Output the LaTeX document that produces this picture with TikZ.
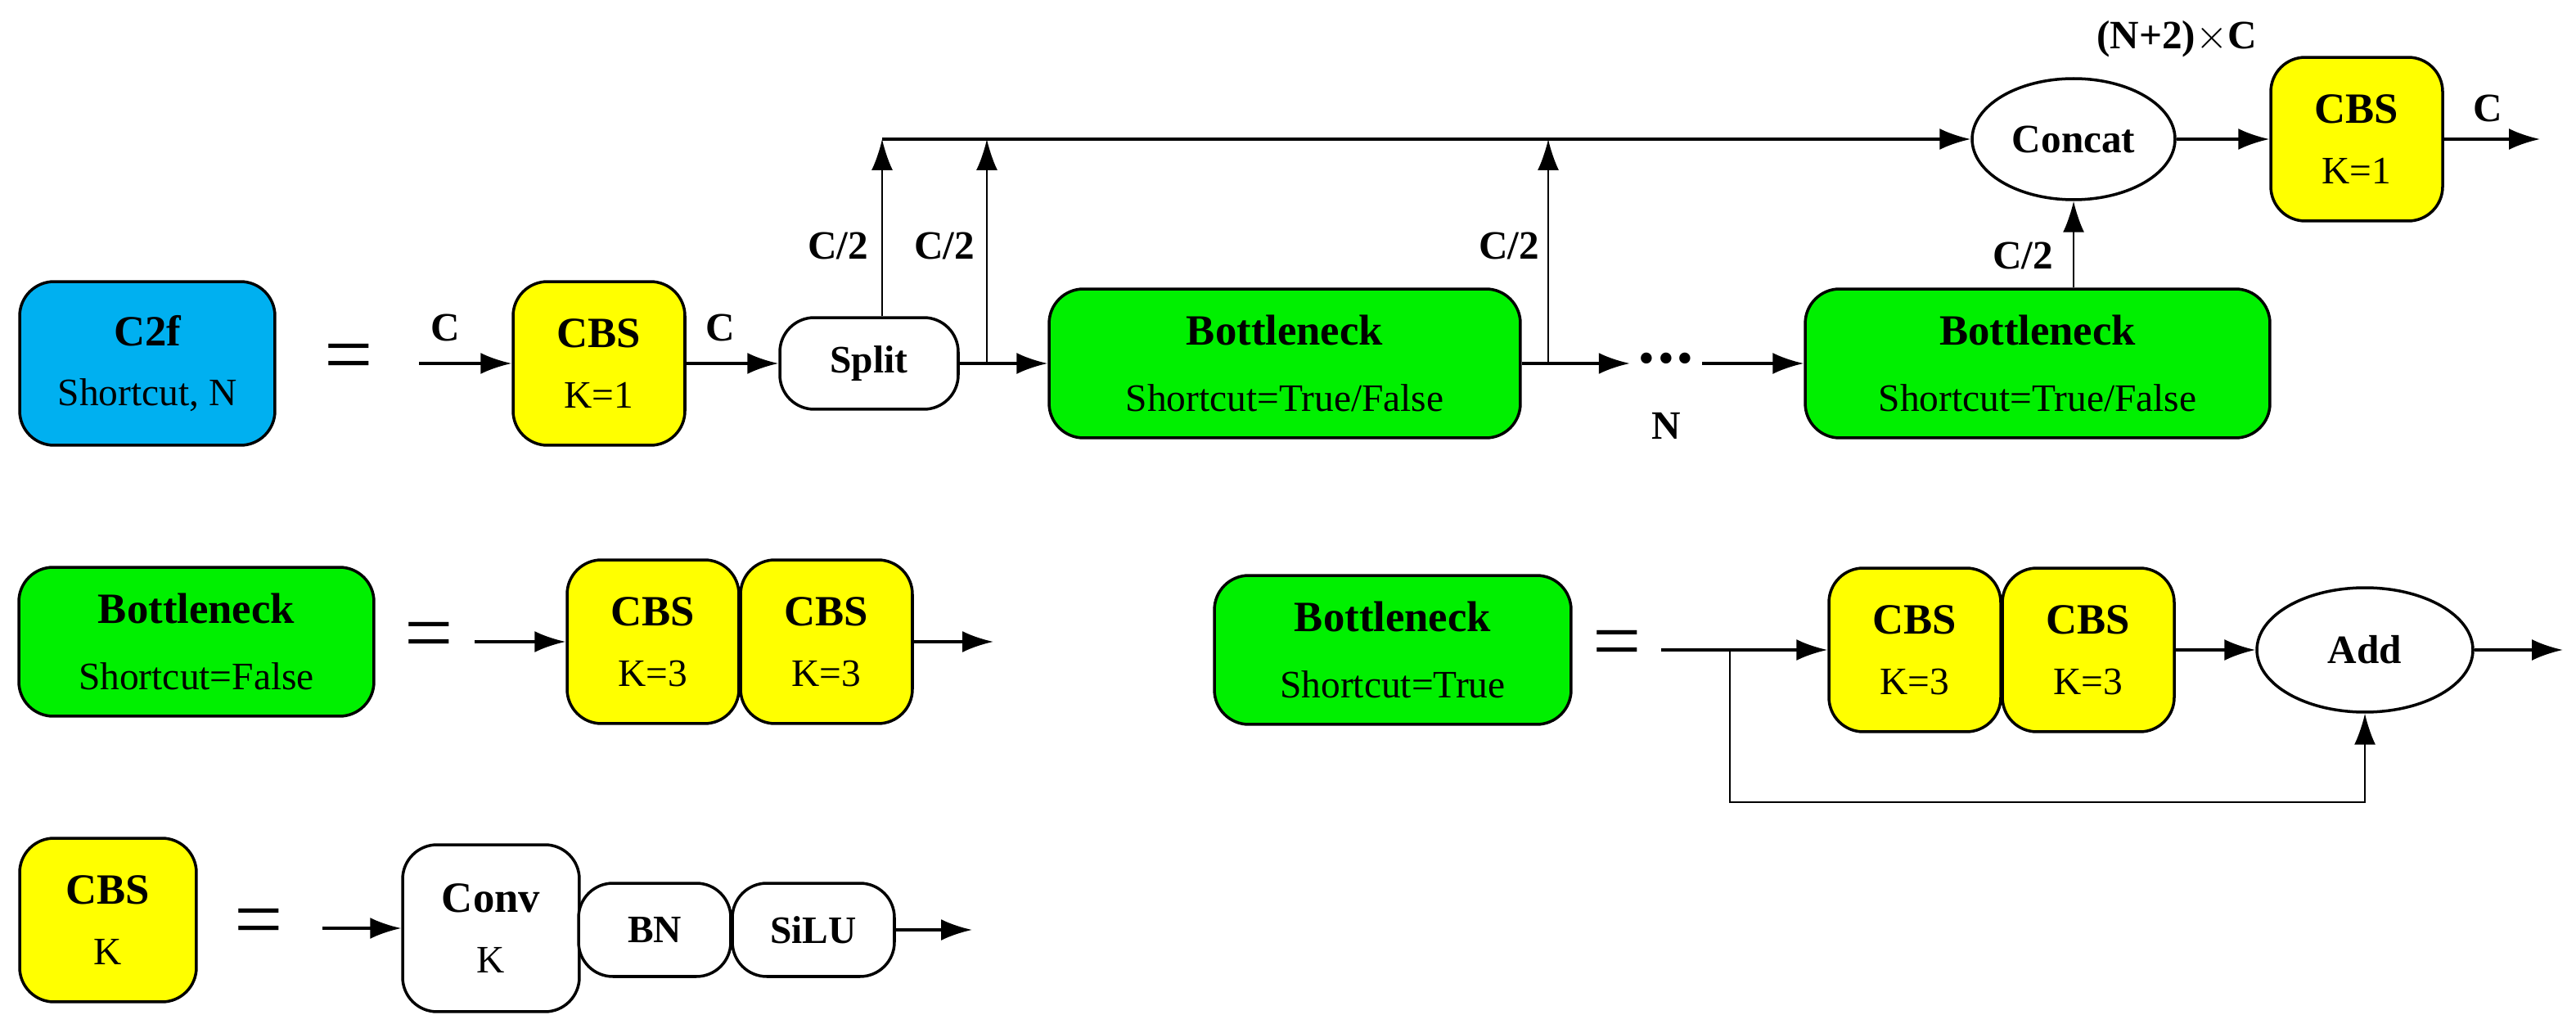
\documentclass[tikz,border=0pt]{standalone}
\usepackage{fontspec}
\setmainfont{Liberation Serif}
\usetikzlibrary{arrows.meta,shapes.geometric}
\definecolor{cfcyan}{RGB}{0,176,240}
\definecolor{cbsyellow}{RGB}{255,255,0}
\definecolor{bngreen}{RGB}{0,240,0}
\begin{document}
\begin{tikzpicture}[x=0.02cm,y=-0.02cm]
    % --- Styles ---
    \tikzset{
        block/.style={draw=black, line width=1pt, rounded corners=0.42cm,
            align=center, inner sep=0pt, font=\fontsize{13.5}{15}\selectfont},
        cbs/.style={block, fill=cbsyellow, minimum width=2.1cm, minimum height=2cm},
        bneck/.style={block, fill=bngreen, minimum height=1.82cm},
        plain/.style={block, fill=white},
        oval/.style={ellipse, draw=black, line width=1pt, fill=white,
            inner sep=0pt, font=\bfseries\fontsize{14}{16}\selectfont},
        flow/.style={line width=1pt, -{Latex[length=3.8mm,width=2.6mm]}},
        thin flow/.style={line width=0.6pt, -{Latex[length=3.8mm,width=2.6mm]}},
        tag/.style={font=\bfseries\fontsize{14}{16}\selectfont},
        equal/.style={font=\fontsize{30}{30}\selectfont}
    }
    \useasboundingbox (0,0) rectangle (1574,631);

    % =========================================================
    % 1. C2F ROW
    % =========================================================
    \node[block, fill=cfcyan, minimum width=3.12cm, minimum height=2cm] (c2f) at (90,222)
        {{\bfseries\fontsize{15}{17}\selectfont C2f}\\[6pt]Shortcut, N};
    \node[equal] (eq1) at (213,222) {=};
    \coordinate (in1) at (256,222);
    \node[cbs] (cbs1) at (366,222) {{\bfseries\fontsize{15}{17}\selectfont CBS}\\[6pt]K=1};
    \node[plain, minimum width=2.18cm, minimum height=1.12cm] (split) at (531,222)
        {\bfseries Split};
    \node[bneck, minimum width=5.76cm] (bn1) at (785,222)
        {{\bfseries\fontsize{15}{17}\selectfont Bottleneck}\\[8pt]Shortcut=True/False};
    \node[inner sep=3pt, font=\fontsize{16}{16}\selectfont] (dots) at (1018,222)
        {\textbullet\kern1pt\textbullet\kern1pt\textbullet};
    \node[bneck, minimum width=5.68cm] (bn2) at (1245,222)
        {{\bfseries\fontsize{15}{17}\selectfont Bottleneck}\\[8pt]Shortcut=True/False};
    \node[oval, minimum width=2.48cm, minimum height=1.48cm] (concat) at (1267,85) {Concat};
    \node[cbs] (cbs2) at (1440,85) {{\bfseries\fontsize{15}{17}\selectfont CBS}\\[6pt]K=1};
    \coordinate (out1) at (1552,85);

    \draw[flow] (in1) -- (cbs1.west);
    \draw[flow] (cbs1.east) -- (split.west);
    \draw[flow] (split.east) -- (bn1.west);
    \draw[flow] (bn1.east) -- (dots.west);
    \draw[flow] (dots.east) -- (bn2.west);
    \draw[flow] (concat.east) -- (cbs2.west);
    \draw[flow] (cbs2.east) -- (out1);

    % branches up to the concat line
    \coordinate (br0) at (split.north -| 539,0);
    \coordinate (br1) at (603,222);
    \coordinate (br2) at (946,222);
    \draw[thin flow] (br0) -- (br0 |- concat.west);
    \draw[thin flow] (br1) -- (br1 |- concat.west);
    \draw[thin flow] (br2) -- (br2 |- concat.west);
    \draw[flow] (br0 |- concat.west) -- (concat.west);
    \draw[thin flow] (concat.south |- bn2.north) -- (concat.south);

    % labels
    \node[tag] (lc1) at (272,200) {C};
    \node[tag] (lc2) at (440,200) {C};
    \node[tag] (lh1) at (512,150) {C/2};
    \node[tag] (lh2) at (577,150) {C/2};
    \node[tag] (lh3) at (922,150) {C/2};
    \node[tag] (lh4) at (1236,156) {C/2};
    \node[tag] (ln) at (1018,260) {N};
    \node[tag] (lnc) at (1330,24) {(N+2)$\times$C};
    \node[tag] (lc3) at (1520,66) {C};

    % =========================================================
    % 2. BOTTLENECK DEFINITIONS
    % =========================================================
    \node[bneck, minimum width=4.34cm] (bnf) at (120,392)
        {{\bfseries\fontsize{15}{17}\selectfont Bottleneck}\\[8pt]Shortcut=False};
    \node[equal] (eq2) at (262,392) {=};
    \coordinate (in2) at (290,392);
    \node[cbs] (cbsf1) at (399,392) {{\bfseries\fontsize{15}{17}\selectfont CBS}\\[6pt]K=3};
    \node[cbs] (cbsf2) at (505,392) {{\bfseries\fontsize{15}{17}\selectfont CBS}\\[6pt]K=3};
    \coordinate (out2) at (607,392);
    \draw[flow] (in2) -- (cbsf1.west);
    \draw[flow] (cbsf2.east) -- (out2);

    \node[bneck, minimum width=4.36cm] (bnt) at (851,397)
        {{\bfseries\fontsize{15}{17}\selectfont Bottleneck}\\[8pt]Shortcut=True};
    \node[equal] (eq3) at (988,397) {=};
    \coordinate (in3) at (1015,397);
    \coordinate (sk) at (1057,397);
    \node[cbs] (cbst1) at (1170,397) {{\bfseries\fontsize{15}{17}\selectfont CBS}\\[6pt]K=3};
    \node[cbs] (cbst2) at (1276,397) {{\bfseries\fontsize{15}{17}\selectfont CBS}\\[6pt]K=3};
    \node[oval, minimum width=2.64cm, minimum height=1.52cm] (add) at (1445,397) {Add};
    \coordinate (out3) at (1566,397);
    \draw[flow] (in3) -- (cbst1.west);
    \draw[flow] (cbst2.east) -- (add.west);
    \draw[flow] (add.east) -- (out3);
    \draw[thin flow] (sk) -- (1057,490) -- (add.south |- 0,490) -- (add.south);

    % =========================================================
    % 3. CBS DEFINITION
    % =========================================================
    \node[cbs, minimum width=2.16cm] (cbsk) at (66,562)
        {{\bfseries\fontsize{15}{17}\selectfont CBS}\\[6pt]K};
    \node[equal] (eq4) at (158,567) {=};
    \coordinate (in4) at (197,567);
    \node[plain, minimum width=2.16cm, minimum height=2.04cm] (conv) at (300,567)
        {{\bfseries\fontsize{15}{17}\selectfont Conv}\\[6pt]K};
    \node[plain, minimum width=1.86cm, minimum height=1.14cm] (bn) at (400,568) {\bfseries BN};
    \node[plain, minimum width=1.98cm, minimum height=1.14cm] (silu) at (497,568) {\bfseries SiLU};
    \coordinate (out4) at (594,568);
    \draw[flow] (in4) -- (conv.west);
    \draw[flow] (silu.east) -- (out4);
\end{tikzpicture}
\end{document}
